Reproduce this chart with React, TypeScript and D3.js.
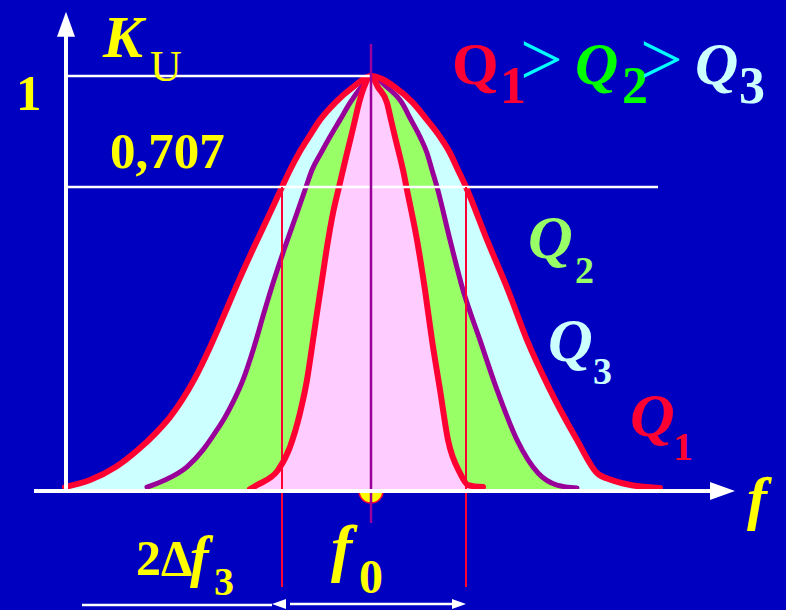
import React from 'react';
import * as d3 from 'd3';

// resonance curves K_U(f): [detuning from f0, relative gain]
const wideCurve: [number, number][] = [
  [-3.06, 0.007], [-2.81, 0.024], [-2.55, 0.056], [-2.33, 0.097], [-2.15, 0.138],
  [-2.01, 0.176], [-1.89, 0.217], [-1.77, 0.266], [-1.61, 0.345], [-1.46, 0.428],
  [-1.32, 0.507], [-1.17, 0.587], [-1.01, 0.669], [-0.89, 0.732], [-0.81, 0.773],
  [-0.72, 0.814], [-0.62, 0.853], [-0.51, 0.894], [-0.36, 0.935], [-0.18, 0.973],
  [0, 1], [0.24, 0.973], [0.42, 0.935], [0.56, 0.894], [0.69, 0.853], [0.79, 0.814],
  [0.87, 0.773], [0.95, 0.732], [1.16, 0.604], [1.37, 0.483], [1.56, 0.362],
  [1.79, 0.242], [2.06, 0.121], [2.26, 0.041], [2.41, 0.024], [2.56, 0.014],
  [2.89, 0.005],
];
const midCurve: [number, number][] = [
  [-2.24, 0.007], [-2.06, 0.024], [-1.84, 0.056], [-1.68, 0.097], [-1.56, 0.138],
  [-1.46, 0.176], [-1.37, 0.217], [-1.28, 0.266], [-1.17, 0.345], [-1.07, 0.428],
  [-0.97, 0.507], [-0.86, 0.587], [-0.74, 0.669], [-0.65, 0.732], [-0.59, 0.773],
  [-0.5, 0.814], [-0.41, 0.853], [-0.31, 0.894], [-0.21, 0.935], [-0.1, 0.973],
  [0, 1], [0.16, 0.973], [0.31, 0.935], [0.4, 0.894], [0.49, 0.853], [0.56, 0.814],
  [0.61, 0.773], [0.66, 0.732], [0.79, 0.604], [0.92, 0.483], [1.09, 0.362],
  [1.26, 0.242], [1.46, 0.121], [1.67, 0.041], [1.86, 0.012], [2.06, 0.005],
];
const narrowCurve: [number, number][] = [
  [-1.21, 0.002], [-1.14, 0.012], [-0.93, 0.048], [-0.81, 0.104], [-0.71, 0.186],
  [-0.64, 0.266], [-0.59, 0.345], [-0.54, 0.428], [-0.49, 0.507], [-0.44, 0.587],
  [-0.38, 0.669], [-0.32, 0.732], [-0.28, 0.773], [-0.24, 0.814], [-0.2, 0.853],
  [-0.16, 0.894], [-0.12, 0.935], [-0.07, 0.973], [0, 1], [0.07, 0.973],
  [0.16, 0.935], [0.2, 0.894], [0.24, 0.853], [0.28, 0.814], [0.32, 0.773],
  [0.36, 0.725], [0.46, 0.604], [0.54, 0.483], [0.61, 0.362], [0.69, 0.242],
  [0.77, 0.121], [0.89, 0.041], [0.97, 0.012], [1.12, 0.007],
];

const levelValues = [1, 0.732];
const levelLabels = ['1', '0,707'];
const levelEnds = [0, 2.87];
const bandEdges = [-0.89, 0.95];

const BG = '#0000C0';
const RED = '#FF0033';
const PURPLE = '#990099';
const YELLOW = '#FFFF00';
const FONT = '"Liberation Serif", "Times New Roman", serif';

export default function App() {
  const width = 786;
  const height = 610;

  const x = d3.scaleLinear().domain([-3.4, 3.7]).range([31, 741]);
  const y = d3.scaleLinear().domain([0, 1]).range([490, 76]);

  const area = d3.area<[number, number]>()
    .x(d => x(d[0]))
    .y0(y(0))
    .y1(d => y(d[1]))
    .curve(d3.curveMonotoneX);
  const line = d3.line<[number, number]>()
    .x(d => x(d[0]))
    .y(d => y(d[1]))
    .curve(d3.curveMonotoneX);

  const axisX = x(-3.05);
  const xStart = x(-3.37);
  const xTip = x(3.64);
  const yTip = y(1.155);
  const base = y(0) + 1;
  const c0 = x(0);

  const semi = `M${c0 - 12},${base} A12,12 0 0 0 ${c0 + 12},${base} Z`;

  const arrowY = 604;
  const bL = x(bandEdges[0]);
  const bR = x(bandEdges[1]);

  const strokeProps = { fill: 'none', strokeLinecap: 'round' as const, strokeLinejoin: 'round' as const };

  return (
    <svg width={width} height={height} style={{ position: 'absolute', left: 0, top: 0, display: 'block' }}
      fontFamily={FONT}>
      <rect width={width} height={height} fill={BG} />

      {/* fills */}
      <path d={area(wideCurve) || ''} fill="#CCFFFF" />
      <path d={area(midCurve) || ''} fill="#99FF66" />
      <path d={area(narrowCurve) || ''} fill="#FFCCFF" />

      {/* semicircle marker at f0 */}
      <path d={semi} fill={YELLOW} stroke={RED} strokeWidth={1.5} />

      {/* curve strokes */}
      <path d={line(midCurve) || ''} stroke={PURPLE} strokeWidth={5} {...strokeProps} />
      <path d={line(narrowCurve) || ''} stroke={RED} strokeWidth={6} {...strokeProps} />
      <path d={line(wideCurve) || ''} stroke={RED} strokeWidth={6} {...strokeProps} />

      {/* level lines */}
      {levelValues.map((v, i) => (
        <line key={i} x1={axisX} x2={x(levelEnds[i])} y1={y(v)} y2={y(v)} stroke="#fff" strokeWidth={2.5} />
      ))}

      {/* bandwidth and center lines */}
      {bandEdges.map((e, i) => (
        <line key={i} x1={x(e)} x2={x(e)} y1={y(levelValues[1])} y2={587} stroke={RED} strokeWidth={2} />
      ))}
      <line x1={c0} x2={c0} y1={44} y2={523} stroke={PURPLE} strokeWidth={2.5} />

      {/* axes */}
      <line x1={xStart} x2={xTip - 20} y1={base} y2={base} stroke="#fff" strokeWidth={4} />
      <path d={`M${xTip},${base} L${xTip - 25},${base - 9} L${xTip - 25},${base + 9} Z`} fill="#fff" />
      <line x1={axisX} x2={axisX} y1={base} y2={yTip + 20} stroke="#fff" strokeWidth={4} />
      <path d={`M${axisX},${yTip} L${axisX - 9},${yTip + 25} L${axisX + 9},${yTip + 25} Z`} fill="#fff" />

      {/* bandwidth arrow */}
      <line x1={82} x2={bL - 10} y1={arrowY + 1} y2={arrowY + 1} stroke="#fff" strokeWidth={2.5} />
      <line x1={bL + 8} x2={bR - 8} y1={arrowY} y2={arrowY} stroke="#fff" strokeWidth={2.5} />
      <path d={`M${bL - 10},${arrowY} L${bL + 4},${arrowY - 5} L${bL + 4},${arrowY + 5} Z`} fill="#fff" />
      <path d={`M${bR},${arrowY} L${bR - 14},${arrowY - 5} L${bR - 14},${arrowY + 5} Z`} fill="#fff" />

      {/* axis labels */}
      <text x={103} y={57} fill={YELLOW} fontSize={60} fontWeight="bold" fontStyle="italic">K</text>
      <text x={150} y={81} fill={YELLOW} fontSize={44}>U</text>
      {levelLabels.map((t, i) => (
        <text key={i} x={i === 0 ? 16 : 110} y={i === 0 ? 110 : 168} fill={YELLOW} fontSize={51} fontWeight="bold">{t}</text>
      ))}
      <text x={747} y={518} fill={YELLOW} fontSize={60} fontWeight="bold" fontStyle="italic">f</text>

      {/* legend */}
      <g fontWeight="bold">
        <text x={452} y={84} fill={RED} fontSize={60}>Q</text>
        <text x={500} y={103} fill={RED} fontSize={52}>1</text>
        <text x={520} y={85} fill="#00FFFF" fontSize={76} fontWeight="normal">&gt;</text>
        <text x={575} y={84} fill="#00FF00" fontSize={60} fontStyle="italic">Q</text>
        <text x={622} y={103} fill="#00FF00" fontSize={52}>2</text>
        <text x={640} y={85} fill="#00FFFF" fontSize={76} fontWeight="normal">&gt;</text>
        <text x={695} y={84} fill="#CCFFFF" fontSize={60} fontStyle="italic">Q</text>
        <text x={739} y={103} fill="#CCFFFF" fontSize={52}>3</text>
      </g>

      {/* curve labels */}
      <g fontWeight="bold">
        <text x={528} y={258} fill="#99FF66" fontSize={62} fontStyle="italic">Q</text>
        <text x={575} y={283} fill="#99FF66" fontSize={38}>2</text>
        <text x={548} y={361} fill="#CCFFFF" fontSize={62} fontStyle="italic">Q</text>
        <text x={593} y={384} fill="#CCFFFF" fontSize={38}>3</text>
        <text x={630} y={436} fill={RED} fontSize={62} fontStyle="italic">Q</text>
        <text x={673} y={460} fill={RED} fontSize={40}>1</text>
      </g>

      {/* bottom labels */}
      <g fontWeight="bold" fill={YELLOW}>
        <text x={136} y={575} fontSize={50}>2Δ</text>
        <text x={190} y={576} fontSize={56} fontStyle="italic">f</text>
        <text x={214} y={595} fontSize={40}>3</text>
        <text x={331} y={569} fontSize={64} fontStyle="italic">f</text>
        <text x={359} y={593} fontSize={48}>0</text>
      </g>
    </svg>
  );
}
